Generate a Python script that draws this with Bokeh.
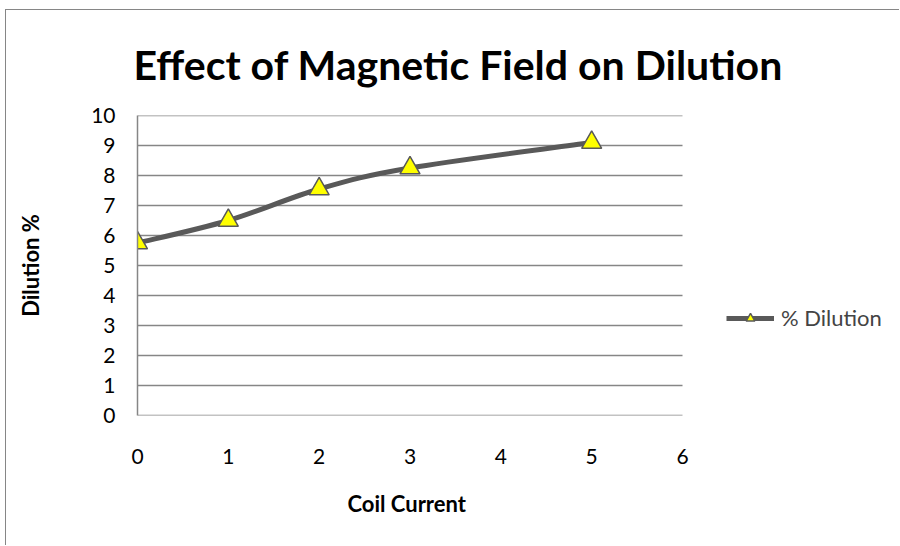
import numpy as np
from bokeh.plotting import figure
from bokeh.models import Legend, LegendItem, FixedTicker, ColumnDataSource, Title
from bokeh.embed import file_html
from bokeh.resources import INLINE

# ---- data ----
coil_current = [0, 1, 2, 3, 5]
dilution = [5.75, 6.5, 7.55, 8.25, 9.1]
x_ticks = [0, 1, 2, 3, 4, 5, 6]
y_ticks = [0, 1, 2, 3, 4, 5, 6, 7, 8, 9, 10]
title_text = "Effect of Magnetic Field on Dilution"
x_label = "Coil Current"
y_label = "Dilution %"
series_name = "% Dilution"

FONT = "Lato"
GRID = "#868686"
LINE = "#595959"

W, H = 894, 536
FL, FT = 131, 105
PLOT_W = 545                      # pixel width of the 0..6 plotting area
FB = H - 405
x_end = x_ticks[-1] * (W - FL) / PLOT_W   # frame extends to the right edge (room for legend)

p = figure(width=W, height=H, output_backend="svg", toolbar_location=None,
           x_range=(x_ticks[0], x_end), y_range=(y_ticks[0], y_ticks[-1]),
           min_border_left=FL, min_border_right=0, min_border_top=FT, min_border_bottom=FB)
p.title = None
p.outline_line_color = None
p.background_fill_color = "white"
p.border_fill_color = "white"
p.styles = {"margin-left": "5px", "margin-top": "9px",
            "border-top": "1px solid #868686", "border-left": "1px solid #868686"}

# axes
for ax in (p.xaxis[0], p.yaxis[0]):
    ax.axis_line_color = GRID
    ax.axis_line_width = 1.5
    ax.major_tick_line_color = None
    ax.minor_tick_line_color = None
    ax.major_tick_out = 0
    ax.major_tick_in = 0
    ax.major_label_text_font = FONT
    ax.major_label_text_font_size = "21px"
    ax.major_label_text_color = "black"
    ax.axis_label_text_font = FONT
    ax.axis_label_text_font_style = "bold"
    ax.axis_label_text_font_size = "22px"
    ax.axis_label_text_color = "black"

p.xaxis.axis_line_color = None
p.xaxis.ticker = FixedTicker(ticks=x_ticks)
p.yaxis.ticker = FixedTicker(ticks=y_ticks)
p.yaxis.axis_label = y_label
p.xaxis.major_label_standoff = 33
p.yaxis.major_label_standoff = 22
p.yaxis.axis_label_standoff = 44

p.xgrid.grid_line_color = None
p.ygrid.grid_line_color = None

# horizontal gridlines spanning only the 0..6 range
p.segment(x0=[x_ticks[0]] * len(y_ticks), x1=[x_ticks[-1]] * len(y_ticks),
          y0=y_ticks, y1=y_ticks, line_color=GRID, line_width=1.5)

# smooth curve (Catmull-Rom -> cubic bezier) through the data points
xs = np.array(coil_current, dtype=float)
ys = np.array(dilution, dtype=float)
n = len(xs)
x0, y0, x1, y1, cx0, cy0, cx1, cy1 = [], [], [], [], [], [], [], []
for i in range(n - 1):
    pm = i - 1 if i > 0 else i
    pp = i + 2 if i + 2 < n else i + 1
    x0.append(xs[i]); y0.append(ys[i])
    x1.append(xs[i + 1]); y1.append(ys[i + 1])
    cx0.append(xs[i] + (xs[i + 1] - xs[pm]) / 6)
    cy0.append(ys[i] + (ys[i + 1] - ys[pm]) / 6)
    cx1.append(xs[i + 1] - (xs[pp] - xs[i]) / 6)
    cy1.append(ys[i + 1] - (ys[pp] - ys[i]) / 6)
bsrc = ColumnDataSource(dict(x0=x0, y0=y0, x1=x1, y1=y1, cx0=cx0, cy0=cy0, cx1=cx1, cy1=cy1))
curve = p.bezier(x0="x0", y0="y0", x1="x1", y1="y1", cx0="cx0", cy0="cy0", cx1="cx1", cy1="cy1",
                 source=bsrc, line_color=LINE, line_width=5)
pts = p.scatter(coil_current, dilution, marker="triangle", size=20,
                fill_color="#FFFF00", line_color=LINE, line_width=1.5)

legend = Legend(items=[LegendItem(label=series_name, renderers=[curve, pts])],
                location=(589, 84), orientation="vertical",
                border_line_color=None, background_fill_alpha=0,
                padding=0, margin=0, spacing=0,
                glyph_width=48, glyph_height=22, label_standoff=7,
                label_text_font=FONT, label_text_font_size="22px", label_height=22)
p.add_layout(legend, "center")

title = Title(text=title_text, align="left", offset=-4, text_font=FONT, text_font_style="bold",
              text_font_size="41px", text_color="black", standoff=54, text_line_height=1.0)
p.add_layout(title, "above")

# x-axis title, centred under the 0..6 plotting area
xtitle = Title(text=x_label, align="left", offset=210, text_font=FONT, text_font_style="bold",
               text_font_size="22px", text_color="black", standoff=42)
p.add_layout(xtitle, "below")

open("out.html", "w").write(file_html(p, INLINE))
